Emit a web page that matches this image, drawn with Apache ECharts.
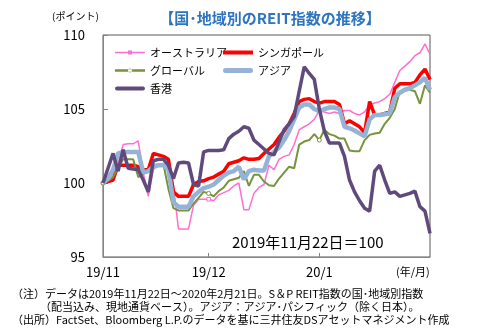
<!DOCTYPE html>
<html><head><meta charset="utf-8">
<script src="https://cdn.jsdelivr.net/npm/echarts@6/dist/echarts.min.js"></script>
<style>html,body{margin:0;padding:0;background:#fff}#c{width:495px;height:329px}</style>
</head><body><div id="c"></div>
<script>
var dates = ["2019/11/22","2019/11/25","2019/11/26","2019/11/27","2019/11/28","2019/11/29",
"2019/12/02","2019/12/03","2019/12/04","2019/12/05","2019/12/06","2019/12/09","2019/12/10","2019/12/11","2019/12/12","2019/12/13",
"2019/12/16","2019/12/17","2019/12/18","2019/12/19","2019/12/20","2019/12/23","2019/12/24","2019/12/25","2019/12/26","2019/12/27",
"2019/12/30","2019/12/31","2020/01/01","2020/01/02","2020/01/03","2020/01/06","2020/01/07","2020/01/08","2020/01/09","2020/01/10",
"2020/01/13","2020/01/14","2020/01/15","2020/01/16","2020/01/17","2020/01/20","2020/01/21","2020/01/22","2020/01/23","2020/01/24",
"2020/01/27","2020/01/28","2020/01/29","2020/01/30","2020/01/31","2020/02/03","2020/02/04","2020/02/05","2020/02/06","2020/02/07",
"2020/02/10","2020/02/11","2020/02/12","2020/02/13","2020/02/14","2020/02/17","2020/02/18","2020/02/19","2020/02/20","2020/02/21"];
var tickIndices = [0, 21, 43];
var yTicks = [95, 100, 105, 110];

var australia = [100.0,100.3,100.6,101.3,102.6,102.65,102.65,102.85,100.7,99.1,
100.9,101.3,101.3,101.1,99.8,96.9,96.9,96.9,98.5,98.9,
98.9,98.9,98.8,99.2,99.35,99.5,99.8,100.0,98.2,98.2,
99.3,99.7,99.9,101.2,100.9,101.6,101.8,101.9,102.6,103.6,
103.8,104.0,104.3,104.9,104.8,104.7,104.8,104.7,104.9,104.9,
104.7,104.6,104.8,105.3,105.4,105.5,105.7,106.0,106.8,107.6,
107.9,108.2,108.6,108.8,109.4,108.7];
var singapore = [100.0,100.1,100.2,101.2,101.2,101.2,101.2,101.1,100.9,100.9,
102.0,101.9,101.8,101.6,99.4,99.1,99.1,99.1,99.9,100.1,
100.15,100.3,100.4,100.6,100.8,101.3,101.4,101.5,101.7,101.6,
101.6,101.65,102.0,102.3,102.6,103.1,103.5,104.0,104.7,105.5,
105.65,105.7,105.5,105.4,105.5,105.5,105.5,105.3,104.0,104.2,
104.0,103.8,103.4,105.5,104.6,104.6,104.7,104.8,106.4,106.7,
106.7,106.7,106.8,107.3,107.7,107.0];
var globalIdx = [100.0,100.15,100.4,101.0,101.6,101.6,101.6,100.4,100.6,100.9,
101.2,101.25,101.3,99.6,98.3,98.15,98.15,98.15,98.6,99.0,
99.4,99.3,99.1,99.45,99.7,100.15,100.25,100.35,100.8,99.8,
100.55,100.55,100.1,99.85,99.8,100.3,100.7,101.1,101.0,102.6,
102.8,102.9,103.3,102.9,103.6,103.3,103.2,103.0,103.0,102.2,
102.15,102.15,102.9,103.25,103.35,103.4,104.0,104.4,105.0,106.2,
106.25,106.3,106.2,105.35,106.6,106.1];
var asia = [100.0,100.3,100.9,102.0,102.1,102.1,102.1,102.1,100.7,100.8,
101.1,101.2,101.2,100.9,98.7,98.4,98.4,98.4,99.1,99.4,
99.65,99.75,99.9,100.2,100.5,100.7,100.8,101.1,100.25,100.8,
100.9,100.85,100.85,101.8,102.1,102.4,102.9,103.5,104.3,105.1,
105.3,105.3,105.0,104.85,105.0,105.1,105.1,105.0,103.8,103.7,
103.55,103.35,103.15,104.3,104.6,104.6,104.65,104.7,105.8,106.1,
106.3,106.4,106.6,106.8,107.1,106.3];
var hongkong = [100.0,101.0,102.0,100.8,102.25,101.0,100.95,100.9,100.2,99.4,
101.5,101.6,101.6,101.2,100.3,101.35,101.4,101.35,99.9,99.8,
102.1,102.2,102.2,102.2,102.25,103.0,103.3,103.5,103.8,103.7,
102.9,102.6,102.3,102.0,101.9,102.8,103.6,104.0,104.5,106.2,
107.85,107.4,107.0,105.0,103.5,102.7,102.7,102.7,101.8,100.2,
99.4,98.8,98.3,98.1,100.8,101.2,100.2,99.3,99.4,99.1,
99.2,99.3,99.45,98.4,98.1,96.6];

var names = ["オーストラリア","シンガポール","グローバル","アジア","香港"];
var colors = ['#FF6FD0', '#FF0000', '#77933C', '#95B3D7', '#604A7B'];
var JP = "'Noto Sans CJK JP', sans-serif";

// legend icons (line samples)
var icons = [
  'path://M0,2.2 L30,2.2 L30,3.8 L0,3.8 Z M13,1 L17,1 L17,5 L13,5 Z',
  'path://M0,1 L30,1 L30,5 L0,5 Z',
  'path://M0,1.7 L30,1.7 L30,4.3 L0,4.3 Z M13,3 A2,2 0 1,0 17,3 A2,2 0 1,0 13,3 Z',
  'path://M2.5,0.5 L27.5,0.5 A2.5,2.5 0 0,1 27.5,5.5 L2.5,5.5 A2.5,2.5 0 0,1 2.5,0.5 Z',
  'path://M2,1 L28,1 A2,2 0 0,1 28,5 L2,5 A2,2 0 0,1 2,1 Z'
];
function legendItem(k){ return {name: names[k], icon: icons[k], itemStyle: {color: colors[k], borderWidth: 0}}; }

function isTick(i){ return tickIndices.indexOf(i) >= 0; }
function monthLabel(d){ var p = d.split("/"); return p[0].slice(2) + "/" + parseInt(p[1], 10); }

var chart = echarts.init(document.getElementById('c'), null, {renderer:'canvas'});
chart.setOption({
  animation: false,
  textStyle: {fontFamily: JP},
  title: {text: "【国･地域別のREIT指数の推移】", left: 265, textAlign: 'center', top: 6,
    textStyle: {color: '#2E74C0', fontSize: 15, fontWeight: 'bold', fontFamily: JP}},
  grid: {left: 103, top: 35, width: 327, height: 222, show: true, borderColor: '#595959', borderWidth: 1},
  legend: [
    {data: [legendItem(0), legendItem(2), legendItem(4)], orient: 'vertical', left: 110, top: 42, itemGap: 7,
     itemWidth: 30, itemHeight: 14, textStyle: {fontSize: 11, color: '#000', fontFamily: JP}},
    {data: [legendItem(1), legendItem(3)], orient: 'vertical', left: 218, top: 42, itemGap: 7,
     itemWidth: 30, itemHeight: 14, textStyle: {fontSize: 11, color: '#000', fontFamily: JP}}
  ],
  xAxis: {type: 'category', data: dates, boundaryGap: false,
    axisLine: {lineStyle: {color: '#868686'}},
    axisTick: {inside: true, length: 4, interval: function(i){return isTick(i);}, lineStyle: {color: '#868686'}},
    axisLabel: {interval: function(i){return isTick(i);}, formatter: function(v){return monthLabel(v);},
      fontSize: 13, color: '#000', margin: 9, fontFamily: JP}},
  yAxis: {type: 'value', min: yTicks[0], max: yTicks[yTicks.length-1], interval: 5,
    splitLine: {show: false},
    axisLine: {show: true, lineStyle: {color: '#868686'}},
    axisTick: {show: true, inside: true, length: 5, lineStyle: {color: '#868686'}},
    axisLabel: {fontSize: 13, color: '#000', margin: 18, fontFamily: JP}},
  series: [
    {name: names[0], type: 'line', data: australia, symbol: 'rect', symbolSize: 3.5, showSymbol: true,
     lineStyle: {color: colors[0], width: 1.5}, itemStyle: {color: '#fff', borderColor: colors[0], borderWidth: 1}, z: 2},
    {name: names[1], type: 'line', data: singapore, symbol: 'none',
     lineStyle: {color: colors[1], width: 3.5}, itemStyle: {color: colors[1]}, z: 3},
    {name: names[2], type: 'line', data: globalIdx, symbol: 'circle', symbolSize: 4, showSymbol: true,
     lineStyle: {color: colors[2], width: 2}, itemStyle: {color: '#fff', borderColor: colors[2], borderWidth: 1}, z: 4},
    {name: names[3], type: 'line', data: asia, symbol: 'none',
     lineStyle: {color: colors[3], width: 4.5}, itemStyle: {color: colors[3]}, z: 5},
    {name: names[4], type: 'line', data: hongkong, symbol: 'none',
     lineStyle: {color: colors[4], width: 3.5}, itemStyle: {color: colors[4]}, z: 6}
  ],
  graphic: [
    {type: 'text', left: 52, top: 11, style: {text: '(ポイント)', fill: '#000', font: "10px " + JP}},
    {type: 'text', left: 232, top: 235, style: {text: '2019年11月22日＝100', fill: '#000', font: "15px " + JP}},
    {type: 'text', left: 396, top: 266, style: {text: '(年/月)', fill: '#000', font: "11px " + JP}},
    {type: 'text', left: 12, top: 288, style: {text: '（注）データは2019年11月22日～2020年2月21日。S＆P REIT指数の国･地域別指数', fill: '#000', font: "11px " + JP}},
    {type: 'text', left: 40, top: 301, style: {text: '（配当込み、現地通貨ベース）。アジア：アジア･パシフィック（除く日本）。', fill: '#000', font: "11px " + JP}},
    {type: 'text', left: 12, top: 314, style: {text: '（出所）FactSet、Bloomberg L.P.のデータを基に三井住友DSアセットマネジメント作成', fill: '#000', font: "11px " + JP}}
  ]
});
</script></body></html>
